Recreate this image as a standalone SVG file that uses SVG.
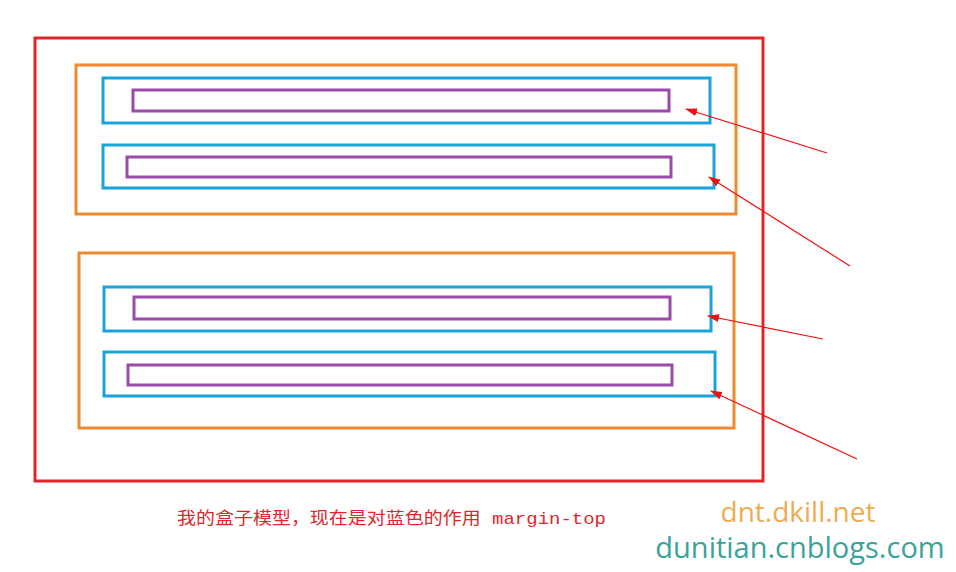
<svg xmlns="http://www.w3.org/2000/svg" width="956" height="572" viewBox="0 0 956 572">
<style>
.r{fill:none;stroke:#e0262b;stroke-width:3}
.o{fill:none;stroke:#f08a30;stroke-width:3}
.b{fill:none;stroke:#1aa3d9;stroke-width:3}
.p{fill:none;stroke:#9a4aa8;stroke-width:3}
.a{stroke:#f01010;stroke-width:1.2;marker-end:url(#ah)}
</style>
<defs><marker id="ah" markerWidth="12" markerHeight="8" refX="11" refY="4" orient="auto" markerUnits="userSpaceOnUse"><path d="M0,0L12,4L0,8z" fill="#f01010"/></marker></defs>
<rect width="956" height="572" fill="#fff"/>
<g id="outer"><rect class="r" x="35" y="38" width="728" height="443"/></g>
<g id="box1"><rect class="o" x="76" y="65" width="660" height="149"/></g>
<g id="b1"><rect class="b" x="103" y="78" width="607" height="45"/><rect class="p" x="133" y="90" width="536" height="21"/></g>
<g id="b2"><rect class="b" x="103" y="145" width="611" height="43"/><rect class="p" x="127" y="157" width="544" height="20"/></g>
<g id="box2"><rect class="o" x="79" y="253" width="655" height="175"/></g>
<g id="b3"><rect class="b" x="104" y="287" width="607" height="44"/><rect class="p" x="134" y="297" width="536" height="22"/></g>
<g id="b4"><rect class="b" x="104" y="352" width="611" height="44"/><rect class="p" x="128" y="365" width="544" height="20"/></g>
<g id="connectors">
<line class="a" x1="827" y1="153" x2="686" y2="109"/>
<line class="a" x1="850" y1="266" x2="709" y2="177"/>
<line class="a" x1="823" y1="339" x2="708" y2="316"/>
<line class="a" x1="857" y1="459" x2="711" y2="391"/>
</g>
<text x="177" y="524" font-family="Liberation Mono, Noto Sans CJK SC, monospace" font-size="17" textLength="429" lengthAdjust="spacingAndGlyphs" fill="#e0262b">我的盒子模型，现在是对蓝色的作用 margin-top</text>
<text x="798" y="522" text-anchor="middle" font-family="Comic Sans MS, Open Sans, sans-serif" font-size="28" fill="#eeac55">dnt.dkill.net</text>
<text x="800" y="558" text-anchor="middle" font-family="Comic Sans MS, Open Sans, sans-serif" font-size="29" fill="#3aa39a">dunitian.cnblogs.com</text>
</svg>
